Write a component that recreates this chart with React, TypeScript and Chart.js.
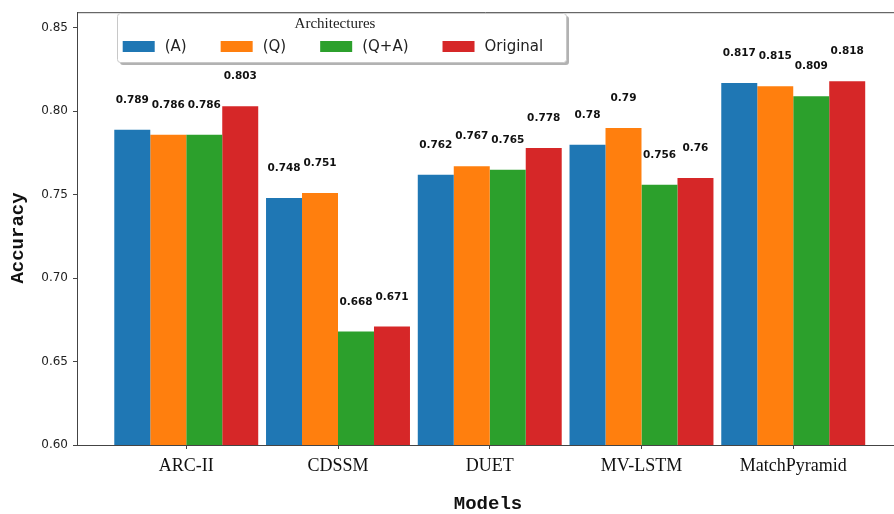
import React, { useEffect, useRef } from 'react';
import { Chart, registerables } from 'chart.js';

Chart.register(...registerables);

const models = ['ARC-II', 'CDSSM', 'DUET', 'MV-LSTM', 'MatchPyramid'];
const seriesNames = ['(A)', '(Q)', '(Q+A)', 'Original'];
const seriesA = [0.789, 0.748, 0.762, 0.78, 0.817];
const seriesQ = [0.786, 0.751, 0.767, 0.79, 0.815];
const seriesQA = [0.786, 0.668, 0.765, 0.756, 0.809];
const seriesOriginal = [0.803, 0.671, 0.778, 0.76, 0.818];
const yTicks = [0.6, 0.65, 0.7, 0.75, 0.8, 0.85];
const colors = ['#1f77b4', '#ff7f0e', '#2ca02c', '#d62728'];

const allSeries = [seriesA, seriesQ, seriesQA, seriesOriginal];

const decorPlugin = {
  id: 'decor',
  afterDatasetsDraw(chart: any) {
    const ctx = chart.ctx;
    const area = chart.chartArea;
    ctx.save();
    // value labels
    ctx.font = 'bold 10.5px "DejaVu Sans"';
    ctx.fillStyle = '#111';
    ctx.textAlign = 'center';
    ctx.textBaseline = 'alphabetic';
    chart.data.datasets.forEach((ds: any, di: number) => {
      const meta = chart.getDatasetMeta(di);
      meta.data.forEach((el: any, i: number) => {
        ctx.fillText(String(allSeries[di][i]), el.x, el.y - 27);
      });
    });
    // top frame line
    ctx.strokeStyle = '#444';
    ctx.lineWidth = 1;
    ctx.beginPath();
    ctx.moveTo(area.left, area.top + 0.5);
    ctx.lineTo(area.right, area.top + 0.5);
    ctx.stroke();

    // legend
    const bx = 117, by = 13, bw = 449, bh = 49;
    ctx.fillStyle = 'rgba(0,0,0,0.3)';
    ctx.beginPath();
    (ctx as any).roundRect(bx + 3, by + 3, bw, bh, 3);
    ctx.fill();
    ctx.fillStyle = '#ffffff';
    ctx.strokeStyle = '#c8c8c8';
    ctx.beginPath();
    (ctx as any).roundRect(bx + 0.5, by + 0.5, bw, bh, 3);
    ctx.fill();
    ctx.stroke();
    ctx.fillStyle = '#222';
    ctx.font = '15px "Liberation Serif"';
    ctx.textAlign = 'center';
    ctx.textBaseline = 'middle';
    ctx.fillText('Architectures', 335, 24);
    ctx.font = '15px "DejaVu Sans"';
    ctx.textAlign = 'left';
    let x = 122.7;
    seriesNames.forEach((name, i) => {
      ctx.fillStyle = colors[i];
      ctx.fillRect(x, 41, 32, 11);
      ctx.fillStyle = '#222';
      ctx.fillText(name, x + 42, 47);
      x += 42 + ctx.measureText(name).width + 34;
    });

    // axis titles
    ctx.font = 'bold 19px "Liberation Mono"';
    ctx.fillStyle = '#111';
    ctx.textAlign = 'center';
    ctx.textBaseline = 'middle';
    ctx.fillText('Models', 488, 504);
    ctx.translate(18, 238);
    ctx.rotate(-Math.PI / 2);
    ctx.fillText('Accuracy', 0, 0);
    ctx.restore();
  },
};

export default function App() {
  const ref = useRef<HTMLCanvasElement | null>(null);
  useEffect(() => {
    if (!ref.current) return;
    const chart = new Chart(ref.current, {
      type: 'bar',
      data: {
        datasets: allSeries.map((arr, di) => ({
          label: seriesNames[di],
          data: arr.map((v, i) => ({ x: i, y: v })),
          backgroundColor: colors[di],
          borderWidth: 0,
          categoryPercentage: 0.9486,
          barPercentage: 1,
        })),
      },
      options: {
        responsive: false,
        animation: false,
        devicePixelRatio: 1,
        layout: { padding: { top: 10, right: 0, left: 0, bottom: 0 } },
        plugins: { legend: { display: false }, tooltip: { enabled: false } },
        scales: {
          x: {
            type: 'linear',
            min: -0.72,
            max: 4.664,
            offset: false,
            grid: { display: true, drawOnChartArea: false, drawTicks: true, tickLength: 4, color: '#444', offset: false },
            border: { display: true, color: '#444', width: 1 },
            ticks: {
              callback: (v: any) => models[Number(v)] ?? '',
              font: { family: '"Liberation Serif"', size: 18 },
              color: '#111',
              padding: 6,
              autoSkip: false,
              maxRotation: 0,
            },
            afterBuildTicks: (s: any) => {
              s.ticks = models.map((_, i) => ({ value: i }));
            },
            afterFit: (s: any) => {
              s.height = 69;
            },
          },
          y: {
            type: 'linear',
            min: 0.6,
            max: 0.8594,
            grid: { display: true, drawOnChartArea: false, drawTicks: true, tickLength: 4, color: '#444' },
            border: { display: true, color: '#444', width: 1 },
            ticks: {
              callback: (v: any) => Number(v).toFixed(2),
              font: { family: '"DejaVu Sans"', size: 12 },
              color: '#222',
              padding: 5,
            },
            afterBuildTicks: (s: any) => {
              s.ticks = yTicks.map((v) => ({ value: v }));
            },
            afterFit: (s: any) => {
              s.width = 77;
            },
          },
        },
      } as any,
      plugins: [decorPlugin],
    });
    return () => chart.destroy();
  }, []);
  return (
    <div style={{ position: 'absolute', left: 0, top: 0, width: 894, height: 514, background: '#fff' }}>
      <canvas ref={ref} width={894} height={514} />
    </div>
  );
}
